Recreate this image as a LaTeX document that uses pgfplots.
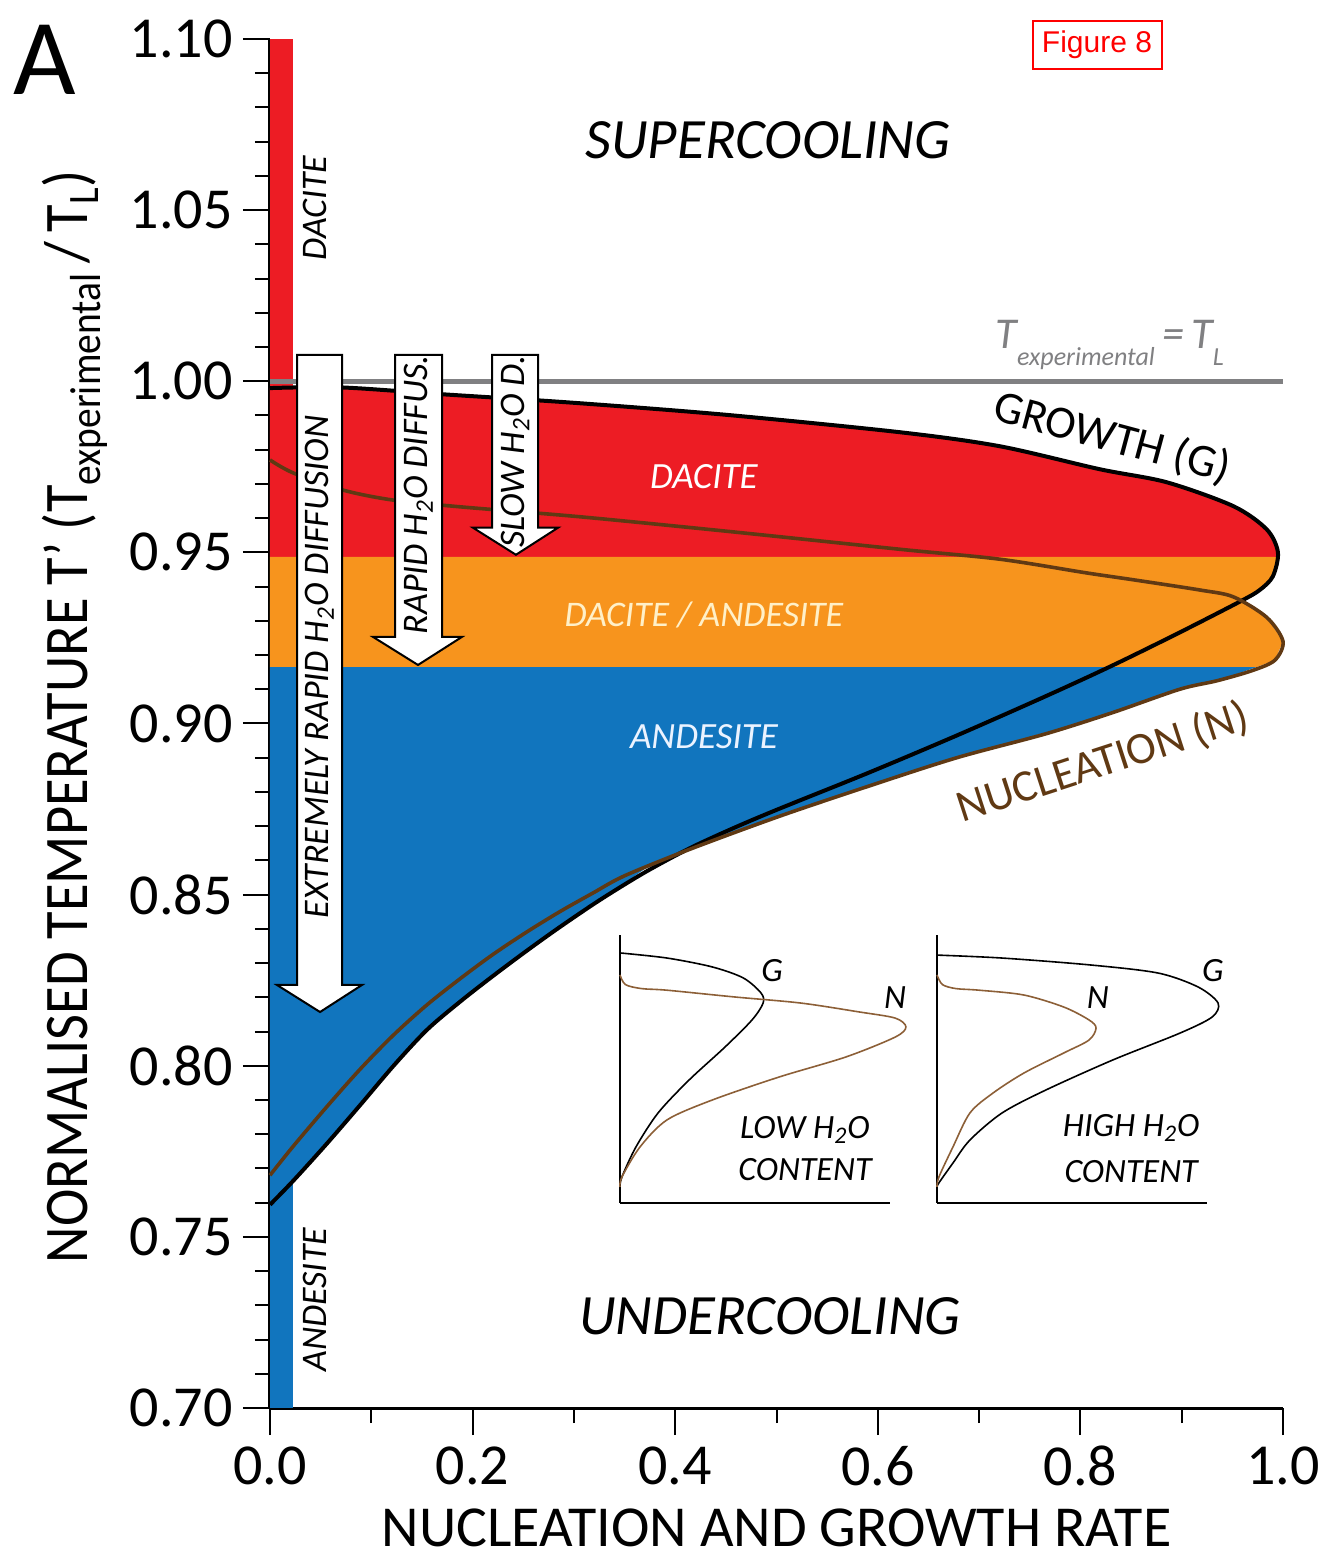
\documentclass[border=0pt]{standalone}
\usepackage{fontspec}
\setmainfont{Carlito}
\newfontfamily\arialf{Liberation Sans}
\usepackage{pgfplots}
\pgfplotsset{compat=1.18}
\definecolor{cred}{RGB}{237,28,36}
\definecolor{corange}{RGB}{247,148,29}
\definecolor{cblue}{RGB}{17,117,190}
\definecolor{cbrown}{RGB}{96,57,19}
\definecolor{cbrownl}{RGB}{140,95,55}
\definecolor{cgray}{RGB}{128,128,130}
\definecolor{ccream}{RGB}{255,240,200}
\definecolor{cpale}{RGB}{235,243,255}
\newcommand{\fs}[1]{\fontsize{#1}{#1}\selectfont}
\begin{document}
\begin{tikzpicture}
\useasboundingbox (-135pt,-75pt) rectangle (529pt,704pt);
\begin{axis}[
  at={(0,0)}, anchor=south west,
  scale only axis, width=506.5pt, height=684.5pt,
  xmin=0, xmax=1, ymin=0.70, ymax=1.10,
  axis x line=bottom, axis y line=left,
  axis line style={-, line width=1.5pt, black},
  clip=false,
  xtick={0,0.2,0.4,0.6,0.8,1.0}, minor x tick num=1,
  ytick={0.70,0.75,0.80,0.85,0.90,0.95,1.00,1.05,1.10}, minor y tick num=4,
  tick align=outside,
  major tick length=13.5pt, minor tick length=7.5pt,
  every tick/.style={line width=1pt, black},
  /pgf/number format/assume math mode=true,
  xticklabel={\pgfmathprintnumber[fixed,fixed zerofill,precision=1]{\tick}},
  yticklabel={\pgfmathprintnumber[fixed,fixed zerofill,precision=2]{\tick}},
  tick label style={font=\fs{29}, inner sep=0pt},
  xticklabel style={anchor=center, yshift=-15.5pt},
  yticklabel style={anchor=east, xshift=-5pt},
  every axis x label/.style={at={(axis description cs:0.5,-0.0875)}, anchor=center, font=\fs{29}, inner sep=0pt},
  every axis y label/.style={at={(axis description cs:-0.1925,0.505)}, rotate=90, anchor=center, font=\fs{31}, inner sep=0pt},
  xlabel={NUCLEATION AND GROWTH RATE},
  ylabel={\scalebox{0.91}[1]{NORMALISED TEMPERATURE T’ (T\textsubscript{experimental}\,/\,T\textsubscript{L})}},
]
% side strip
\addplot[fill=cred, draw=none] coordinates {(0,0.9487) (0.0227,0.9487) (0.0227,1.10) (0,1.10)};
\addplot[fill=corange, draw=none] coordinates {(0,0.9165) (0.0227,0.9165) (0.0227,0.9487) (0,0.9487)};
\addplot[fill=cblue, draw=none] coordinates {(0,0.70) (0.0227,0.70) (0.0227,0.9165) (0,0.9165)};
% bands
\addplot[fill=cred, draw=none] coordinates {(0,0.9487) (0,0.998) (0.07,0.9982) (0.17,0.9962) (0.30,0.9937) (0.45,0.9902) (0.622,0.9851) (0.7206,0.981) (0.819,0.9743) (0.885,0.9705) (0.951,0.9635) (0.984,0.9567) (0.995,0.950) (0.9945,0.9487)};
\addplot[fill=corange, draw=none] coordinates {(0,0.9165) (0,0.9487) (0.9945,0.9487) (0.990,0.943) (0.977,0.939) (0.958,0.9357) (0.984,0.931) (1.0,0.924) (0.992,0.9185) (0.974,0.9165)};
\addplot[fill=cblue, draw=none] coordinates {(0,0.9165) (0.974,0.9165) (0.935,0.9125) (0.898,0.910) (0.832,0.9032) (0.766,0.8974) (0.678,0.8904) (0.590,0.8816) (0.502,0.8728) (0.414,0.8635) (0.37,0.8575) (0.326,0.8485) (0.286,0.8405) (0.253,0.8335) (0.220,0.8262) (0.188,0.8188) (0.155,0.8105) (0.122,0.8000) (0.089,0.7885) (0.056,0.7772) (0.023,0.7664) (0,0.7594)};
% Texp = TL line
\addplot[cgray, line width=2.5pt] coordinates {(0,1.0) (1.0,1.0)};
% growth curve
\addplot[black, line width=2pt, smooth] coordinates {(0,0.998) (0.07,0.9982) (0.17,0.9962) (0.30,0.9937) (0.45,0.9902) (0.622,0.9851) (0.7206,0.981) (0.819,0.9743) (0.885,0.9705) (0.951,0.9635) (0.984,0.9567) (0.995,0.950) (0.990,0.943) (0.977,0.939) (0.958,0.9357) (0.898,0.9266) (0.832,0.9170) (0.766,0.9080) (0.678,0.8965) (0.590,0.8855) (0.502,0.8750) (0.458,0.8695) (0.414,0.8635) (0.370,0.8565) (0.326,0.8485) (0.286,0.8405) (0.253,0.8335) (0.220,0.8262) (0.188,0.8188) (0.155,0.8105) (0.122,0.8000) (0.089,0.7885) (0.056,0.7772) (0.023,0.7664) (0,0.7594)};
% nucleation curve
\addplot[cbrown, line width=1.8pt, smooth] coordinates {(0,0.977) (0.023,0.9732) (0.072,0.9682) (0.121,0.9653) (0.188,0.9633) (0.306,0.9604) (0.45,0.9562) (0.622,0.9509) (0.7206,0.948) (0.806,0.944) (0.852,0.942) (0.918,0.939) (0.951,0.937) (0.984,0.931) (1.0,0.924) (0.992,0.9185) (0.970,0.9155) (0.935,0.9125) (0.898,0.910) (0.832,0.9032) (0.766,0.8970) (0.678,0.8900) (0.590,0.8816) (0.502,0.8728) (0.414,0.8632) (0.35,0.8555) (0.319,0.8505) (0.286,0.8450) (0.253,0.8390) (0.220,0.8325) (0.188,0.8255) (0.155,0.8178) (0.122,0.8090) (0.089,0.7990) (0.056,0.7880) (0.023,0.7765) (0,0.768)};
% arrows
\draw[fill=white, draw=black, line width=1pt] (axis cs:0.0267,1.0077) -- (axis cs:0.0711,1.0077) -- (axis cs:0.0711,0.8236) -- (axis cs:0.0908,0.8236) -- (axis cs:0.0494,0.8157) -- (axis cs:0.0069,0.8236) -- (axis cs:0.0267,0.8236) -- cycle;
\draw[fill=white, draw=black, line width=1pt] (axis cs:0.1234,1.0077) -- (axis cs:0.1698,1.0077) -- (axis cs:0.1698,0.9253) -- (axis cs:0.1895,0.9253) -- (axis cs:0.1461,0.9171) -- (axis cs:0.1017,0.9253) -- (axis cs:0.1234,0.9253) -- cycle;
\draw[fill=white, draw=black, line width=1pt] (axis cs:0.2192,1.0077) -- (axis cs:0.2646,1.0077) -- (axis cs:0.2646,0.9572) -- (axis cs:0.2843,0.9572) -- (axis cs:0.2428,0.9493) -- (axis cs:0.2004,0.9572) -- (axis cs:0.2192,0.9572) -- cycle;
\node[rotate=90, font=\fs{18}\itshape, inner sep=0pt] at (axis cs:0.0490,0.9165) {EXTREMELY RAPID H\textsubscript{2}O DIFFUSION};
\node[rotate=90, font=\fs{18}\itshape, inner sep=0pt] at (axis cs:0.1466,0.9668) {RAPID H\textsubscript{2}O DIFFUS.};
\node[rotate=90, font=\fs{18}\itshape, inner sep=0pt] at (axis cs:0.2419,0.9794) {SLOW H\textsubscript{2}O D.};
% texts
\node[font=\fs{28.5}\itshape, inner sep=0pt] at (axis cs:0.4916,1.0705) {SUPERCOOLING};
\node[font=\fs{28.5}\itshape, inner sep=0pt] at (axis cs:0.4936,0.7269) {UNDERCOOLING};
\node[font=\fs{18.5}\itshape, text=white, inner sep=0pt] at (axis cs:0.4284,0.9721) {DACITE};
\node[font=\fs{18}\itshape, text=ccream, inner sep=0pt] at (axis cs:0.4284,0.9317) {DACITE / ANDESITE};
\node[font=\fs{18.5}\itshape, text=cpale, inner sep=0pt] at (axis cs:0.4284,0.8961) {ANDESITE};
\node[rotate=90, font=\fs{18}\itshape, inner sep=0pt] at (axis cs:0.0444,1.0507) {DACITE};
\node[rotate=90, font=\fs{18}\itshape, inner sep=0pt] at (axis cs:0.0444,0.7316) {ANDESITE};
\node[rotate=-15, font=\fs{23}, inner sep=0pt] at (axis cs:0.831,0.9834) {GROWTH (G)};
\node[rotate=18, font=\fs{22.5}, text=cbrown, inner sep=0pt] at (axis cs:0.822,0.8885) {NUCLEATION (N)};
\node[font=\itshape, text=cgray, inner sep=0pt, anchor=base] at (axis cs:0.829,1.0095) {\fs{22}T\raisebox{-0.8ex}{\fs{13}experimental}\,=\,T\raisebox{-0.8ex}{\fs{13}L}};
\node[font=\fs{54}, inner sep=0pt] at (axis cs:-0.222,1.0939) {A};
\node[draw=red, line width=1pt, text=red, font=\arialf\fs{15}, minimum width=64.5pt, minimum height=24pt, inner sep=0pt] at (axis cs:0.8164,1.0983) {Figure 8};
\end{axis}
% inset: low H2O
\begin{axis}[
  at={(175pt,102.5pt)}, anchor=south west,
  scale only axis, width=135pt, height=134pt,
  xmin=0, xmax=1, ymin=0, ymax=1,
  axis x line=bottom, axis y line=left,
  axis line style={-, line width=0.8pt, black},
  ticks=none, clip=false,
]
\addplot[black, line width=0.8pt, smooth] coordinates {(0,0.933) (0.174,0.914) (0.341,0.881) (0.456,0.840) (0.522,0.784) (0.530,0.746) (0.489,0.683) (0.389,0.582) (0.256,0.459) (0.141,0.336) (0.059,0.209) (0.007,0.097) (0,0.060)};
\addplot[cbrownl, line width=0.8pt, smooth] coordinates {(0,0.851) (0.02,0.815) (0.08,0.800) (0.174,0.794) (0.422,0.769) (0.670,0.746) (0.885,0.713) (1.019,0.690) (1.059,0.657) (1.019,0.619) (0.837,0.545) (0.589,0.470) (0.341,0.384) (0.174,0.310) (0.074,0.209) (0.007,0.097) (0,0.060)};
\node[font=\fs{17}\itshape, inner sep=0pt] at (axis cs:0.563,0.869) {G};
\node[font=\fs{17}\itshape, inner sep=0pt] at (axis cs:1.019,0.765) {N};
\node[font=\fs{17}\itshape, inner sep=0pt] at (axis cs:0.685,0.272) {LOW H\textsubscript{2}O};
\node[font=\fs{17}\itshape, inner sep=0pt] at (axis cs:0.685,0.123) {CONTENT};
\end{axis}
% inset: high H2O
\begin{axis}[
  at={(333.5pt,102.5pt)}, anchor=south west,
  scale only axis, width=135pt, height=134pt,
  xmin=0, xmax=1, ymin=0, ymax=1,
  axis x line=bottom, axis y line=left,
  axis line style={-, line width=0.8pt, black},
  ticks=none, clip=false,
]
\addplot[black, line width=0.8pt, smooth] coordinates {(0,0.925) (0.241,0.914) (0.570,0.888) (0.819,0.858) (0.967,0.806) (1.041,0.746) (1.019,0.694) (0.9,0.634) (0.652,0.534) (0.404,0.422) (0.241,0.336) (0.122,0.235) (0.059,0.149) (0.007,0.075) (0,0.060)};
\addplot[cbrownl, line width=0.8pt, smooth] coordinates {(0,0.851) (0.02,0.815) (0.07,0.800) (0.156,0.794) (0.322,0.776) (0.470,0.731) (0.563,0.683) (0.589,0.653) (0.563,0.608) (0.470,0.560) (0.322,0.485) (0.207,0.410) (0.122,0.336) (0.059,0.209) (0.007,0.097) (0,0.060)};
\node[font=\fs{17}\itshape, inner sep=0pt] at (axis cs:1.022,0.869) {G};
\node[font=\fs{17}\itshape, inner sep=0pt] at (axis cs:0.596,0.765) {N};
\node[font=\fs{17}\itshape, inner sep=0pt] at (axis cs:0.719,0.280) {HIGH H\textsubscript{2}O};
\node[font=\fs{17}\itshape, inner sep=0pt] at (axis cs:0.719,0.119) {CONTENT};
\end{axis}
\end{tikzpicture}
\end{document}
